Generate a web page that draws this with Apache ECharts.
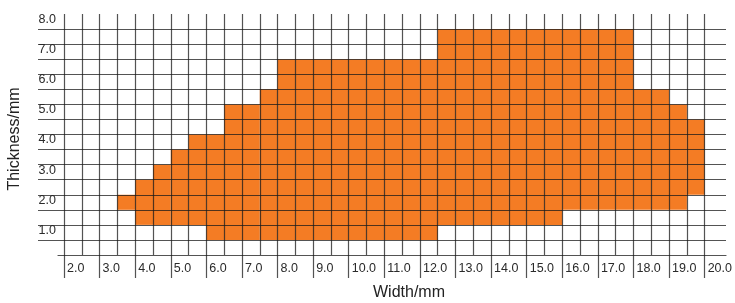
<!DOCTYPE html>
<html>
<head>
<meta charset="utf-8">
<script src="https://cdn.jsdelivr.net/npm/echarts@6/dist/echarts.min.js"></script>
<style>
html,body{margin:0;padding:0;background:#fff;}
#chart{width:735px;height:303px;}
</style>
</head>
<body>
<div id="chart"></div>
<script>
// Data: each column covers [widthStart, widthStart + binWidth] in Width/mm
const binWidth = 0.5;
const widthStarts = [3.5, 4.0, 4.5, 5.0, 5.5, 6.0, 6.5, 7.0, 7.5,
  8.0, 8.5, 9.0, 9.5, 10.0, 10.5, 11.0, 11.5, 12.0,
  12.5, 13.0, 13.5, 14.0, 14.5, 15.0, 15.5,
  16.0, 16.5, 17.0, 17.5,
  18.0, 18.5, 19.0, 19.5];
const thicknessMin = [1.5, 1.0, 1.0, 1.0, 1.0, 0.5, 0.5, 0.5, 0.5,
  0.5, 0.5, 0.5, 0.5, 0.5, 0.5, 0.5, 0.5, 0.5,
  1.0, 1.0, 1.0, 1.0, 1.0, 1.0, 1.0,
  1.5, 1.5, 1.5, 1.5,
  1.5, 1.5, 1.5, 2.0];
const thicknessMax = [2.0, 2.5, 3.0, 3.5, 4.0, 4.0, 5.0, 5.0, 5.5,
  6.5, 6.5, 6.5, 6.5, 6.5, 6.5, 6.5, 6.5, 6.5,
  7.5, 7.5, 7.5, 7.5, 7.5, 7.5, 7.5,
  7.5, 7.5, 7.5, 7.5,
  5.5, 5.5, 5.0, 4.5];
const xTickLabels = ['2.0','3.0','4.0','5.0','6.0','7.0','8.0','9.0','10.0','11.0','12.0','13.0','14.0','15.0','16.0','17.0','18.0','19.0','20.0'];
const yTickLabels = ['', '1.0','2.0','3.0','4.0','5.0','6.0','7.0','8.0'];
const xName = 'Width/mm';
const yName = 'Thickness/mm';

const cells = widthStarts.map((w, i) => [w, thicknessMin[i], thicknessMax[i]]);

const FONT = 'Liberation Sans, Arial, sans-serif';
const lineStyle = { color: 'rgba(25,25,25,0.75)', width: 1.2 };

const chart = echarts.init(document.getElementById('chart'), null, { renderer: 'canvas' });
chart.setOption({
  animation: false,
  backgroundColor: '#fff',
  grid: [
    { left: 64, right: 27, top: 14, bottom: 48 },
    { left: 38, right: 9, top: 14, bottom: 48 },
    { left: 58, right: 9, top: 14, bottom: 48 }
  ],
  xAxis: [
    {
      gridIndex: 0, type: 'value', min: 2, max: 20, interval: 1, z: 10,
      axisLine: { show: false },
      axisTick: { show: true, length: 23, lineStyle: lineStyle },
      splitLine: { show: true, lineStyle: lineStyle },
      minorTick: { show: false, splitNumber: 2 },
      minorSplitLine: { show: true, lineStyle: lineStyle },
      axisLabel: {
        margin: 7, align: 'left', verticalAlign: 'top', padding: [0, 0, 0, 3],
        color: '#2a2a2a', fontFamily: FONT, fontSize: 12.5,
        showMinLabel: true, showMaxLabel: true,
        formatter: (v) => xTickLabels[Math.round(v - 2)] || ''
      }
    },
    { gridIndex: 1, type: 'value', min: 0, max: 1, show: false },
    {
      gridIndex: 2, type: 'value', min: 0, max: 1, z: 10,
      axisLine: { show: true, lineStyle: lineStyle },
      axisTick: { show: false }, axisLabel: { show: false }, splitLine: { show: false }
    }
  ],
  yAxis: [
    {
      gridIndex: 0, type: 'value', min: 0, max: 8, interval: 1, z: 10,
      axisLine: { show: false }, axisTick: { show: false }, splitLine: { show: false },
      axisLabel: {
        margin: 8, align: 'right', verticalAlign: 'top', padding: [-1, 0, 0, 0],
        color: '#2a2a2a', fontFamily: FONT, fontSize: 12.5,
        showMinLabel: true, showMaxLabel: true,
        formatter: (v) => yTickLabels[Math.round(v)] || ''
      }
    },
    {
      gridIndex: 1, type: 'value', min: 0, max: 8, interval: 0.5, z: 10,
      axisLine: { show: false }, axisTick: { show: false }, axisLabel: { show: false },
      splitLine: { show: true, showMinLine: false, showMaxLine: false, lineStyle: lineStyle }
    },
    { gridIndex: 2, type: 'value', min: 0, max: 8, show: false }
  ],
  graphic: [
    {
      type: 'text', x: 15, y: 139, rotation: Math.PI / 2,
      style: { text: yName, fontFamily: FONT, fontSize: 16, fill: '#222', align: 'center', verticalAlign: 'middle' }
    },
    {
      type: 'text', x: 409, y: 293,
      style: { text: xName, fontFamily: FONT, fontSize: 16, fill: '#222', align: 'center', verticalAlign: 'middle' }
    }
  ],
  series: [
    {
      type: 'custom', xAxisIndex: 0, yAxisIndex: 0, z: 2,
      data: cells,
      renderItem: function (params, api) {
        const x0 = api.value(0), y0 = api.value(1), y1 = api.value(2);
        const p0 = api.coord([x0, y1]);
        const p1 = api.coord([x0 + binWidth, y0]);
        return {
          type: 'rect',
          shape: { x: p0[0], y: p0[1], width: p1[0] - p0[0], height: p1[1] - p0[1] },
          style: { fill: '#F47C24' }
        };
      }
    }
  ]
});
</script>
</body>
</html>
